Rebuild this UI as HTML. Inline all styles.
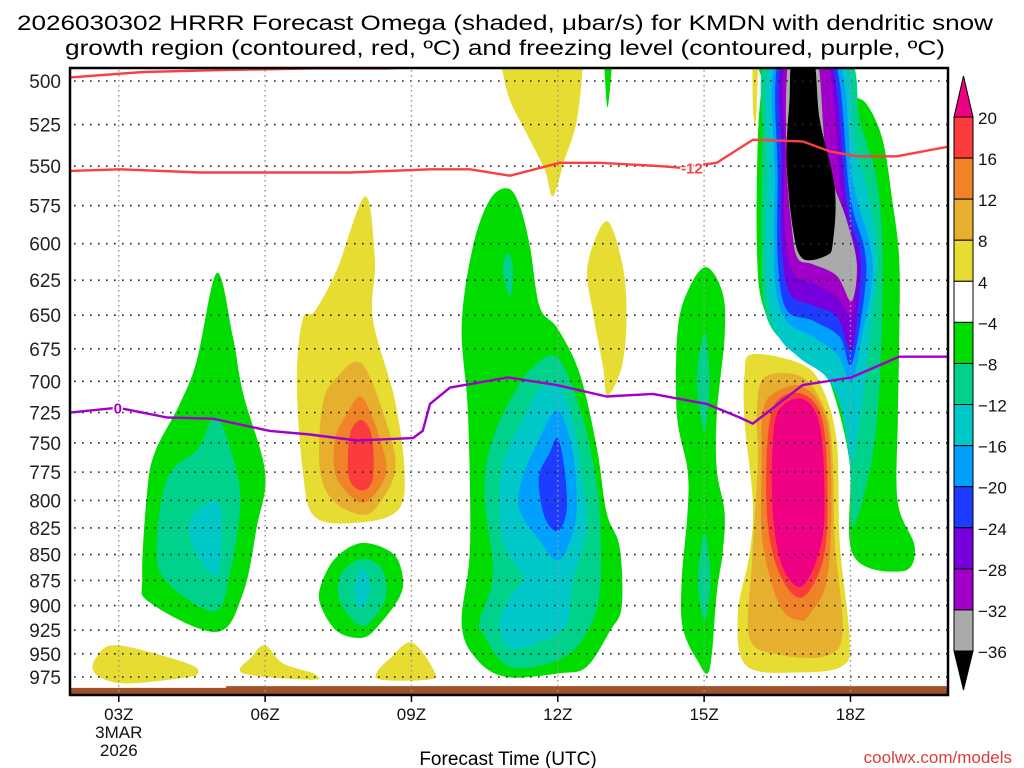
<!DOCTYPE html>
<html><head><meta charset="utf-8"><title>HRRR Omega KMDN</title>
<style>
html,body{margin:0;padding:0;background:#fff;}
svg{display:block;font-family:"Liberation Sans",sans-serif;}
</style></head>
<body>
<svg id="chart" width="1024" height="768" viewBox="0 0 1024 768" xmlns="http://www.w3.org/2000/svg">
  <defs><clipPath id="plotclip"><rect x="70" y="68" width="878" height="627"/></clipPath></defs>
  <rect x="0" y="0" width="1024" height="768" fill="#fff"/>
  <text x="505" y="30" font-size="21" text-anchor="middle" textLength="976" lengthAdjust="spacingAndGlyphs">2026030302 HRRR Forecast Omega (shaded, μbar/s) for KMDN with dendritic snow</text>
  <text x="505" y="55" font-size="21" text-anchor="middle" textLength="880" lengthAdjust="spacingAndGlyphs">growth region (contoured, red, ºC) and freezing level (contoured, purple, ºC)</text>
  <g id="fills" clip-path="url(#plotclip)"></g>
  <g id="grid"></g>
  <g id="lines" clip-path="url(#plotclip)"></g>
  <g id="axes"></g>
  <g id="cbar"></g>
  <text x="508" y="765" font-size="19" text-anchor="middle">Forecast Time (UTC)</text>
  <text x="1012" y="763" font-size="17" fill="#e03a3a" text-anchor="end">coolwx.com/models</text>
</svg>
<script>
// ---- data (hour UTC, pressure hPa) ----
const pressureTicks = [500,525,550,575,600,625,650,675,700,725,750,775,800,825,850,875,900,925,950,975];
const timeTickHours = [3,6,9,12,15,18];
const timeTickLabels = ["03Z","06Z","09Z","12Z","15Z","18Z"];
const cbarLevels = [20,16,12,8,4,-4,-8,-12,-16,-20,-24,-28,-32,-36];
const cbarColors = ["#fa3c3c","#f08228","#e6af2d","#e6dc32","#ffffff","#00dc00","#00d28c","#00c8c8","#00a0ff","#1e3cff","#7800dc","#a000c8","#aaaaaa"];

const blobA_m4 = [[5.01,620],[5.34,666],[5.55,710],[6.0,775],[5.83,824],[5.55,887],[5.01,927],[3.64,897],[3.48,871],[3.58,793],[3.74,758],[4.25,718],[4.6,684]];
const blobA_m8 = [[5.01,729],[5.42,775],[5.48,811],[5.28,868],[4.97,906],[3.99,877],[3.78,843],[3.99,780],[4.6,756]];
const blobA_m12 = [[5.01,800],[5.11,824],[5.01,870],[4.52,843],[4.5,815]];
const blobB_p4 = [[8.05,569],[8.25,611],[8.21,653],[8.66,715],[8.86,775],[8.72,809],[7.94,820],[7.02,815],[6.77,773],[6.65,699],[6.77,653],[7.02,647],[7.47,618]];
const blobB_p8 = [[8.0,687],[8.56,743],[8.66,775],[8.35,802],[8.0,813],[7.39,800],[7.12,771],[7.18,718],[7.47,697]];
const blobB_p12 = [[8.0,713],[8.41,754],[8.45,780],[8.0,802],[7.47,780],[7.43,748],[7.68,726]];
const blobB_p16 = [[7.98,731],[8.19,745],[8.21,780],[8.0,791],[7.72,780],[7.74,743]];
const blobC_m4 = [[8.0,839],[8.62,849],[8.82,871],[8.76,891],[8.35,919],[8.0,933],[7.47,926],[7.12,897],[7.18,875],[7.47,852]];
const blobC_m8 = [[8.0,854],[8.41,865],[8.45,895],[8.0,921],[7.53,895],[7.57,868]];
const blobC_m12 = [[8.0,863],[8.15,881],[8.0,903],[7.84,891],[7.88,872]];
const blobD1_p4 = [[2.98,941],[4.4,960],[4.62,971],[4.32,976],[3.09,982],[2.51,971],[2.55,953]];
const blobD2_p4 = [[6.0,941],[6.36,960],[6.98,971],[6.98,978],[5.55,971],[5.73,953]];
const blobD3_p4 = [[9.01,938],[9.48,970],[9.32,978],[8.39,978],[8.29,970],[8.56,955]];
const blobE_m4 = [[10.98,564],[11.22,575],[11.43,602],[11.63,644],[12.0,660],[12.45,694],[12.8,754],[13.0,811],[13.27,843],[13.31,901],[13.07,926],[12.59,964],[12.04,971],[10.95,975],[10.34,956],[10.03,919],[10.2,843],[10.16,726],[10.03,658],[10.26,602],[10.61,571]];
const blobE_m8a = [[10.98,606],[11.08,618],[11.02,637],[10.87,618]];
const blobE_m8 = [[12.0,682],[12.45,721],[12.72,766],[12.86,811],[12.86,887],[12.59,928],[12.04,956],[11.02,964],[10.46,928],[10.4,915],[10.67,868],[10.5,798],[10.61,754],[11.02,715],[11.49,689]];
const blobE_m12 = [[12.0,702],[12.31,731],[12.51,782],[12.59,827],[12.31,875],[12.18,919],[11.69,936],[11.02,944],[10.81,919],[11.02,891],[11.28,871],[10.87,836],[10.85,773],[11.28,731],[11.63,707]];
const blobE_m16 = [[12.0,723],[12.29,754],[12.39,800],[12.31,830],[12.0,856],[11.63,837],[11.22,809],[11.26,782],[11.63,746]];
const blobE_m20 = [[12.0,746],[12.14,773],[12.18,809],[12.0,828],[11.73,815],[11.61,780],[11.84,758]];
const blobF_p4 = [[13.0,585],[13.33,615],[13.41,653],[13.31,689],[13.02,711],[12.92,687],[12.72,648],[12.61,615]];
const blobTop_p4 = [[10.87,489],[10.87,495],[11.02,511],[11.32,528],[11.73,552],[11.9,569],[12.14,546],[12.35,528],[12.45,511],[12.5,495],[12.5,489]];
const blobTop_m4 = [[12.96,489],[12.96,495],[13.02,515],[13.1,495],[13.1,489]];
const blobG_m4 = [[15.05,616],[15.38,634],[15.42,666],[15.26,726],[15.26,773],[15.42,811],[15.38,849],[15.26,887],[15.11,967],[14.85,956],[14.56,922],[14.54,875],[14.66,811],[14.66,773],[14.44,726],[14.46,660],[14.7,630]];
const blobG_m8a = [[15.01,663],[15.11,699],[15.01,740],[14.85,699]];
const blobG_m8b = [[15.01,830],[15.13,875],[15.01,915],[14.87,875]];
const blobH_m4 = [[16.2,486],[17.94,486],[17.98,506],[18.33,513],[18.66,534],[18.86,572],[19.0,611],[19.0,669],[18.97,732],[18.97,802],[19.32,843],[19.07,866],[18.05,850],[17.98,766],[17.57,700],[17.1,672],[16.55,663],[16.18,640],[16.08,599],[16.1,534],[16.18,501]];
const blobH_m8 = [[16.32,486],[17.92,486],[18.19,522],[18.54,559],[18.66,611],[18.6,700],[18.43,766],[18.05,824],[17.98,766],[17.72,710],[17.23,679],[16.61,669],[16.24,646],[16.18,599],[16.2,534]];
const blobH_m12 = [[16.41,486],[17.84,486],[18.09,534],[18.39,572],[18.54,611],[18.39,669],[18.19,732],[18.02,766],[17.84,726],[17.51,697],[16.96,682],[16.49,663],[16.28,625],[16.3,559]];
const blobH_m16 = [[16.49,486],[17.72,486],[18.05,559],[18.39,599],[18.45,625],[18.25,663],[18.02,700],[17.72,679],[17.23,666],[16.69,654],[16.45,625],[16.45,559]];
const blobH_m20 = [[16.55,486],[17.64,486],[17.98,567],[18.29,604],[18.29,634],[18.02,687],[17.78,666],[17.23,654],[16.69,646],[16.51,611],[16.51,559]];
const blobH_m24 = [[16.61,486],[17.57,486],[17.92,572],[18.19,606],[18.19,631],[18.02,676],[17.72,651],[17.23,643],[16.75,634],[16.59,599],[16.59,546]];
const blobH_m28 = [[16.69,486],[17.51,486],[17.84,579],[18.13,611],[18.09,627],[18.02,651],[17.72,637],[17.23,627],[16.82,620],[16.65,590],[16.65,546]];
const blobH_m32 = [[16.75,486],[17.3,486],[17.51,546],[17.92,584],[18.13,614],[18.02,640],[17.72,622],[17.23,614],[16.92,610],[16.8,590],[16.69,546]];
const blobH_m36 = [[16.82,486],[17.23,486],[17.37,522],[17.68,564],[17.64,599],[17.51,608],[17.02,610],[16.82,590],[16.69,546],[16.75,511]];
const blobSliver_p4 = [[16.0,486],[16.1,486],[16.08,514],[16.04,525],[16.0,514]];
const blobI_p4 = [[16.0,679],[17.02,687],[17.43,706],[17.72,749],[17.78,838],[17.98,933],[17.84,963],[16.96,970],[15.87,963],[15.69,909],[15.93,850],[16.0,802],[15.83,732],[15.83,694]];
const blobI_p8 = [[16.24,697],[17.02,697],[17.51,726],[17.64,766],[17.68,838],[17.84,926],[17.51,952],[16.55,951],[15.93,933],[15.98,858],[16.1,766],[16.08,726]];
const blobI_p12 = [[16.41,710],[17.02,704],[17.51,732],[17.61,802],[17.51,876],[17.16,909],[16.96,915],[16.55,900],[16.2,838],[16.18,766],[16.2,726]];
const blobI_p16 = [[16.49,716],[17.02,710],[17.43,732],[17.53,802],[17.43,857],[17.0,892],[16.55,869],[16.3,819],[16.3,749]];
const blobI_p20 = [[16.55,722],[17.02,714],[17.37,735],[17.47,802],[17.37,846],[17.0,881],[16.61,862],[16.41,812],[16.41,749]];

const dgzHours = [2.0,3.02,4.66,6.1,7.74,9.38,10.2,11.02,12.04,12.86,14.09,14.5,15.26,16.0,17.02,17.57,18.13,18.95,20.03];
const dgzPress = [553,552,554,554,554,552,552,556,548,548,550,551,548,534,535,541,544,544,538];
const dgzTopHours = [2.0,3.5,5.0,7.0,8.5,9.3];
const dgzTopPress = [498,495,494,493,493,492];
const frzHours = [2.0,2.98,3.99,4.93,6.1,6.92,7.88,9.03,9.23,9.38,9.79,10.98,11.98,13.0,13.95,15.05,15.73,16.0,17.02,18.02,19.0,20.03];
const frzPress = [725,721,729,730,740,743,748,746,740,718,705,697,703,712,710,718,729,734,703,697,681,681];
const surfaceHours = [2,5.2,5.2,20.1];
const surfacePress = [987,987,985,985];

// ---- axes (log-pressure vertical) ----
const X0=70, X1=948, Y0=68, Y1=695;
function xs(h){ return X0 + (h-2)*(878/18); }
function ys(p){ return 81 + Math.log(p/500)*(596/Math.log(975/500)); }
const NS='http://www.w3.org/2000/svg';
function mk(tag, attrs, parent){ const e=document.createElementNS(NS,tag); for(const k in attrs) e.setAttribute(k,attrs[k]); parent.appendChild(e); return e; }

function smooth(pts){
  const P = pts.map(d=>[xs(d[0]), ys(d[1])]); const n=P.length;
  let d='M'+P[0][0].toFixed(1)+','+P[0][1].toFixed(1);
  for(let i=0;i<n;i++){
    const p0=P[(i-1+n)%n], p1=P[i], p2=P[(i+1)%n], p3=P[(i+2)%n];
    const c1=[p1[0]+(p2[0]-p0[0])/6, p1[1]+(p2[1]-p0[1])/6];
    const c2=[p2[0]-(p3[0]-p1[0])/6, p2[1]-(p3[1]-p1[1])/6];
    d+='C'+c1[0].toFixed(1)+','+c1[1].toFixed(1)+' '+c2[0].toFixed(1)+','+c2[1].toFixed(1)+' '+p2[0].toFixed(1)+','+p2[1].toFixed(1);
  }
  return d+'Z';
}

const fills = document.getElementById('fills');
const C = {p20:"#f00082",p16:"#fa3c3c",p12:"#f08228",p8:"#e6af2d",p4:"#e6dc32",m4:"#00dc00",m8:"#00d28c",m12:"#00c8c8",m16:"#00a0ff",m20:"#1e3cff",m24:"#7800dc",m28:"#a000c8",m32:"#aaaaaa",m36:"#000000"};
const layers = [
 [blobA_m4,'m4','blob-a'],[blobA_m8,'m8','blob-a'],[blobA_m12,'m12','blob-a'],
 [blobB_p4,'p4','blob-b'],[blobB_p8,'p8','blob-b'],[blobB_p12,'p12','blob-b'],[blobB_p16,'p16','blob-b'],
 [blobC_m4,'m4','blob-c'],[blobC_m8,'m8','blob-c'],[blobC_m12,'m12','blob-c'],
 [blobD1_p4,'p4','blob-d1'],[blobD2_p4,'p4','blob-d2'],[blobD3_p4,'p4','blob-d3'],
 [blobE_m4,'m4','blob-e'],[blobE_m8a,'m8','blob-e-upper'],[blobE_m8,'m8','blob-e'],[blobE_m12,'m12','blob-e'],[blobE_m16,'m16','blob-e'],[blobE_m20,'m20','blob-e'],
 [blobF_p4,'p4','blob-f'],[blobTop_p4,'p4','blob-top'],[blobTop_m4,'m4','blob-top-green'],
 [blobG_m4,'m4','blob-g'],[blobG_m8a,'m8','blob-g-upper'],[blobG_m8b,'m8','blob-g-lower'],
 [blobH_m4,'m4','blob-h'],[blobH_m8,'m8','blob-h'],[blobH_m12,'m12','blob-h'],[blobH_m16,'m16','blob-h'],[blobH_m20,'m20','blob-h'],[blobH_m24,'m24','blob-h'],[blobH_m28,'m28','blob-h'],[blobH_m32,'m32','blob-h'],[blobH_m36,'m36','blob-h'],
 [blobSliver_p4,'p4','blob-sliver'],
 [blobI_p4,'p4','blob-i'],[blobI_p8,'p8','blob-i'],[blobI_p12,'p12','blob-i'],[blobI_p16,'p16','blob-i'],[blobI_p20,'p20','blob-i']
];
layers.forEach(L=>{
  const e=mk('path',{d:smooth(L[0]),fill:C[L[1]]},fills);
  
  
});

// ground
const gp = surfaceHours.map((h,i)=>xs(h).toFixed(1)+','+ys(surfacePress[i]).toFixed(1)).join(' ')+' '+xs(20.1).toFixed(1)+','+Y1+' '+xs(2).toFixed(1)+','+Y1;
const ground = mk('polygon',{points:gp,fill:'#a0522d'},fills);



// grid
const grid=document.getElementById('grid');
pressureTicks.forEach(p=>{
  const l=mk('line',{x1:X0+4,x2:X1,y1:ys(p),y2:ys(p),stroke:'#222','stroke-width':1.6,'stroke-dasharray':'1.6 6.4'},grid);
  
  
});
timeTickHours.forEach(h=>{
  const l=mk('line',{x1:xs(h),x2:xs(h),y1:Y0+2,y2:Y1,stroke:'#999','stroke-width':1.4,'stroke-dasharray':'1.6 3.4'},grid);
  
  
});

// contour lines
const lines=document.getElementById('lines');
function pl(hs,ps,color,name){
  const pts=hs.map((h,i)=>xs(h).toFixed(1)+','+ys(ps[i]).toFixed(1)).join(' ');
  const e=mk('polyline',{points:pts,fill:'none',stroke:color,'stroke-width':2.4,'stroke-linejoin':'round'},lines);
  
  
}
pl(dgzHours,dgzPress,'#fa4040','dgz-minus12-contour');
pl(dgzTopHours,dgzTopPress,'#fa4040','dgz-top-contour');
pl(frzHours,frzPress,'#a000c8','freezing-level-contour');
const lab12=mk('text',{x:xs(14.75),y:ys(551)+6,'font-size':15,'font-weight':'bold',fill:'#fa4040','text-anchor':'middle',stroke:'#fff','stroke-width':3,'paint-order':'stroke'},lines);
lab12.textContent='-12';


const lab0=mk('text',{x:xs(2.98),y:ys(721)+6,'font-size':15,'font-weight':'bold',fill:'#a000c8','text-anchor':'middle',stroke:'#fff','stroke-width':3,'paint-order':'stroke'},lines);
lab0.textContent='0';



// axes
const axes=document.getElementById('axes');
const fr=mk('rect',{x:X0,y:Y0,width:X1-X0,height:Y1-Y0,fill:'none',stroke:'#000','stroke-width':2.5},axes);


pressureTicks.forEach(p=>{
  const t=mk('text',{x:61,y:ys(p)+7,'font-size':19,'text-anchor':'end',fill:'#222'},axes);
  t.textContent=p;
  
  
});
timeTickHours.forEach((h,i)=>{
  const tk=mk('line',{x1:xs(h),x2:xs(h),y1:Y1,y2:Y1+7,stroke:'#000','stroke-width':1.5},axes);
  
  
  const t=mk('text',{x:xs(h),y:720,'font-size':17,'text-anchor':'middle',fill:'#111'},axes);
  t.textContent=timeTickLabels[i];
  
  
});
['3MAR','2026'].forEach((s,i)=>{
  const t=mk('text',{x:xs(3),y:738+i*18,'font-size':17,'text-anchor':'middle',fill:'#111'},axes);
  t.textContent=s;
  
  
});

// colorbar
const cb=document.getElementById('cbar');
const CBX=954, CBW=19, CBT=117, CBH=(651-117)/13;
const tri1=mk('polygon',{points:CBX+','+CBT+' '+(CBX+CBW)+','+CBT+' '+(CBX+CBW/2)+',76',fill:'#f00082',stroke:'#000','stroke-width':1},cb);


cbarColors.forEach((c,i)=>{
  const r=mk('rect',{x:CBX,y:CBT+i*CBH,width:CBW,height:CBH,fill:c,stroke:'#000','stroke-width':1},cb);
  
  
});
const tri2=mk('polygon',{points:CBX+','+(CBT+13*CBH)+' '+(CBX+CBW)+','+(CBT+13*CBH)+' '+(CBX+CBW/2)+',690',fill:'#000',stroke:'#000','stroke-width':1},cb);


cbarLevels.forEach((v,i)=>{
  const t=mk('text',{x:978,y:CBT+i*CBH+7,'font-size':17,fill:'#111'},cb);
  t.textContent = v<0 ? '\u2212'+Math.abs(v) : String(v);
  
  
});
</script>
</body></html>
